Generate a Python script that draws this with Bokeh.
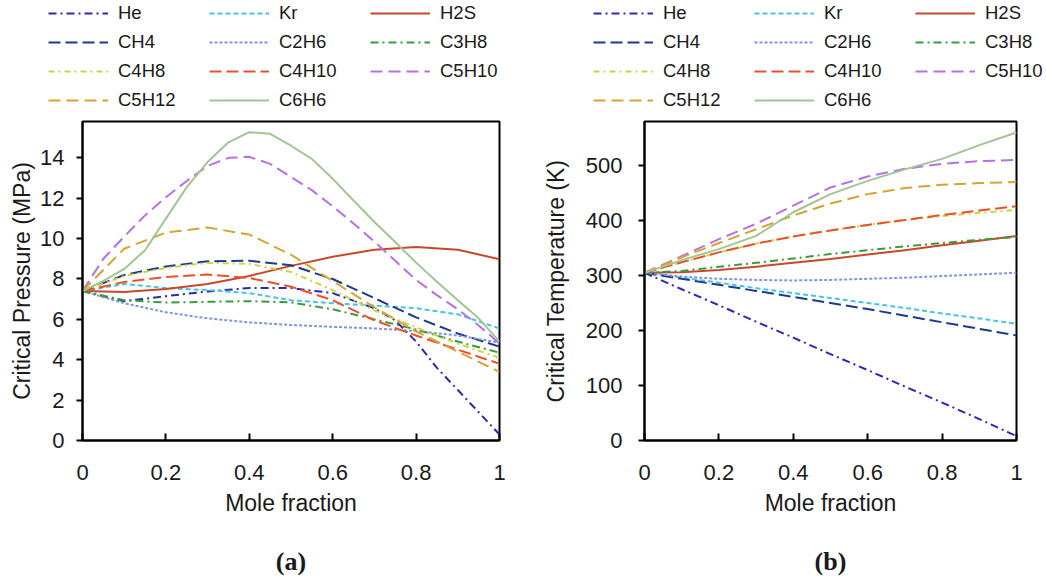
from bokeh.plotting import figure
from bokeh.layouts import row, column
from bokeh.models import Legend, LegendItem, FixedTicker, NumeralTickFormatter, Range1d, Title
from bokeh.embed import file_html
from bokeh.resources import INLINE

# ---------------- data ----------------
x_tenths = [0, 0.1, 0.2, 0.3, 0.4, 0.5, 0.6, 0.7, 0.8, 0.9, 1.0]
x_twentieths = [0, 0.05, 0.1, 0.15, 0.2, 0.25, 0.3, 0.35, 0.4, 0.45, 0.5,
                0.55, 0.6, 0.65, 0.7, 0.75, 0.8, 0.85, 0.9, 0.95, 1.0]
x_he_a = [0, 0.1, 0.2, 0.3, 0.4, 0.5, 0.6, 0.7, 0.75, 0.8, 0.85, 0.9, 0.95, 1.0]

# (a) Critical pressure (MPa)
pc_He = [7.4, 6.9, 7.15, 7.38, 7.55, 7.55, 7.3, 6.55, 5.95, 4.9, 3.6, 2.5, 1.4, 0.3]
pc_Kr = [7.4, 7.75, 7.55, 7.45, 7.3, 6.95, 6.8, 6.68, 6.55, 6.25, 5.55]
pc_H2S = [7.4, 7.35, 7.5, 7.75, 8.15, 8.65, 9.1, 9.45, 9.58, 9.45, 8.98]
pc_CH4 = [7.4, 8.2, 8.62, 8.88, 8.9, 8.68, 8.0, 7.05, 6.1, 5.3, 4.65]
pc_C2H6 = [7.4, 6.8, 6.35, 6.05, 5.85, 5.72, 5.63, 5.55, 5.42, 5.2, 4.85]
pc_C3H8 = [7.4, 6.95, 6.83, 6.87, 6.9, 6.84, 6.5, 6.0, 5.5, 4.9, 4.35]
pc_C4H8 = [7.4, 8.15, 8.55, 8.8, 8.75, 8.35, 7.45, 6.45, 5.6, 4.8, 4.1]
pc_C4H10 = [7.4, 7.85, 8.1, 8.22, 8.05, 7.62, 6.95, 5.95, 5.2, 4.5, 3.8]
pc_C5H10 = [7.4, 9.0, 10.1, 11.15, 12.05, 12.85, 13.6, 14.0, 14.05, 13.7, 13.05,
            12.4, 11.6, 10.75, 9.85, 8.9, 7.95, 7.2, 6.5, 5.7, 4.8]
pc_C5H12 = [7.4, 9.5, 10.3, 10.55, 10.2, 9.2, 7.9, 6.6, 5.4, 4.4, 3.4]
pc_C6H6 = [7.4, 7.9, 8.5, 9.42, 10.99, 12.55, 13.79, 14.77, 15.27, 15.19, 14.6,
           13.95, 12.96, 11.89, 10.82, 9.83, 8.81, 7.86, 6.95, 6.05, 4.9]

# (b) Critical temperature (K)
tc_He = [305, 275, 246, 216, 187, 157, 128, 98, 69, 39, 8]
tc_Kr = [305, 296, 287, 277, 268, 259, 250, 241, 231, 222, 212]
tc_H2S = [305, 306, 310, 316, 323, 330, 338, 346, 355, 363, 372]
tc_CH4 = [305, 294, 283, 272, 261, 250, 239, 227, 215, 203, 191]
tc_C2H6 = [305, 298, 294, 292, 291, 292, 294, 296, 299, 302, 305]
tc_C3H8 = [305, 308, 316, 323, 331, 339, 346, 353, 359, 365, 370]
tc_C4H8 = [305, 324, 342, 358, 371, 382, 392, 401, 408, 414, 419]
tc_C4H10 = [305, 324, 342, 358, 371, 382, 392, 401, 410, 418, 426]
tc_C5H10 = [305, 335, 366, 394, 427, 460, 480, 494, 503, 508, 510]
tc_C5H12 = [305, 333, 359, 384, 409, 431, 448, 459, 465, 468, 470]
tc_C6H6 = [305, 328, 348, 372, 415, 448, 472, 493, 512, 537, 560]

species = ["He", "Kr", "H2S", "CH4", "C2H6", "C3H8", "C4H8", "C4H10", "C5H10", "C5H12", "C6H6"]
x_ticks = [0, 0.2, 0.4, 0.6, 0.8, 1.0]
pc_ticks = [0, 2, 4, 6, 8, 10, 12, 14]
tc_ticks = [0, 100, 200, 300, 400, 500]

# ---------------- styles ----------------
styles = {
    "He":    ("#2A2AB0", "8 4 2 4"),
    "Kr":    ("#45C5E5", "5 3"),
    "H2S":   ("#C8482C", "solid"),
    "CH4":   ("#1F3A8A", "12 5"),
    "C2H6":  ("#7D96E0", "3 2"),
    "C3H8":  ("#3A9A3E", "8 4 2 4"),
    "C4H8":  ("#CDD53C", "6 4 2 4"),
    "C4H10": ("#E8522C", "12 5"),
    "C5H10": ("#B870E6", "12 6"),
    "C5H12": ("#D6A431", "12 6"),
    "C6H6":  ("#A3C495", "solid"),
}

FONT = "Liberation Sans"
TXT = "#1a1a1a"

series_a = {
    "He": (x_he_a, pc_He), "Kr": (x_tenths, pc_Kr), "H2S": (x_tenths, pc_H2S),
    "CH4": (x_tenths, pc_CH4), "C2H6": (x_tenths, pc_C2H6), "C3H8": (x_tenths, pc_C3H8),
    "C4H8": (x_tenths, pc_C4H8), "C4H10": (x_tenths, pc_C4H10),
    "C5H10": (x_twentieths, pc_C5H10), "C5H12": (x_tenths, pc_C5H12),
    "C6H6": (x_twentieths, pc_C6H6),
}
series_b = {
    "He": (x_tenths, tc_He), "Kr": (x_tenths, tc_Kr), "H2S": (x_tenths, tc_H2S),
    "CH4": (x_tenths, tc_CH4), "C2H6": (x_tenths, tc_C2H6), "C3H8": (x_tenths, tc_C3H8),
    "C4H8": (x_tenths, tc_C4H8), "C4H10": (x_tenths, tc_C4H10),
    "C5H10": (x_tenths, tc_C5H10), "C5H12": (x_tenths, tc_C5H12),
    "C6H6": (x_tenths, tc_C6H6),
}


def make_legend_fig(series, width, legend_x):
    # legend-only strip: same series, drawn outside its visible ranges so only the key shows
    q = figure(width=width, height=119, output_backend="svg", toolbar_location=None,
               x_range=Range1d(10, 11), y_range=Range1d(-20, -10),
               x_axis_location=None, y_axis_location=None,
               min_border=0, outline_line_color=None)
    q.grid.visible = False
    items = []
    for name in species:
        xs, ys = series[name]
        color, dash = styles[name]
        r = q.line(xs, ys, line_color=color, line_width=2, line_dash=dash)
        items.append(LegendItem(label=name, renderers=[r]))
    legend = Legend(items=items, ncols=3, orientation="horizontal", location=(legend_x, 7),
                    glyph_width=60, glyph_height=24, label_width=86, label_standoff=10,
                    spacing=5, padding=0, margin=0,
                    label_text_font=FONT, label_text_font_size="18.5px",
                    label_text_color=TXT,
                    border_line_alpha=0, background_fill_alpha=0)
    q.add_layout(legend, "center")
    return q


def make_panel(series, ylabel, yticks, ymax, tag, fw, left, right, ylab_standoff, ytick_standoff):
    p = figure(frame_width=fw, frame_height=319, output_backend="svg", toolbar_location=None,
               x_range=Range1d(0, 1), y_range=Range1d(0, ymax),
               min_border_left=left, min_border_right=right,
               min_border_top=2, min_border_bottom=0)
    p.grid.visible = False
    p.outline_line_color = "black"
    p.outline_line_width = 2

    xa = p.xaxis[0]
    xa.ticker = FixedTicker(ticks=x_ticks)
    xa.formatter = NumeralTickFormatter(format="0.[0]")
    xa.major_tick_in = 7
    xa.major_tick_out = 0
    xa.minor_tick_line_color = None
    xa.axis_line_width = 2
    xa.major_tick_line_width = 2
    xa.major_label_standoff = 24
    xa.major_label_text_font = FONT
    xa.major_label_text_font_size = "22px"
    xa.major_label_text_color = TXT
    xa.axis_label = "Mole fraction"
    xa.axis_label_text_font = FONT
    xa.axis_label_text_font_size = "23px"
    xa.axis_label_text_font_style = "normal"
    xa.axis_label_text_color = TXT
    xa.axis_label_standoff = 7

    ya = p.yaxis[0]
    ya.ticker = FixedTicker(ticks=yticks)
    ya.major_tick_in = 0
    ya.major_tick_out = 6
    ya.minor_tick_line_color = None
    ya.axis_line_width = 2
    ya.major_tick_line_width = 2
    ya.major_label_standoff = ytick_standoff
    ya.major_label_text_font = FONT
    ya.major_label_text_font_size = "22px"
    ya.major_label_text_color = TXT
    ya.axis_label = ylabel
    ya.axis_label_text_font = FONT
    ya.axis_label_text_font_size = "23px"
    ya.axis_label_text_font_style = "normal"
    ya.axis_label_text_color = TXT
    ya.axis_label_standoff = ylab_standoff

    for name in species:
        xs, ys = series[name]
        color, dash = styles[name]
        p.line(xs, ys, line_color=color, line_width=2, line_dash=dash, line_join="round")

    t = Title(text=tag, align="center", text_font="Liberation Serif", text_color=TXT,
              text_font_size="26px", text_font_style="bold", standoff=52)
    p.add_layout(t, "below")
    return p


leg_a = make_legend_fig(series_a, 520, 48)
leg_b = make_legend_fig(series_b, 526, 73)
pa = make_panel(series_a, "Critical Pressure (MPa)", pc_ticks, 15.8, "(a)", 417, 82, 21, 2, 12)
pb = make_panel(series_b, "Critical Temperature (K)", tc_ticks, 580, "(b)", 372, 124, 30, 14, 16)

layout = column(row(leg_a, leg_b), row(pa, pb))
open("out.html", "w").write(file_html(layout, INLINE))
